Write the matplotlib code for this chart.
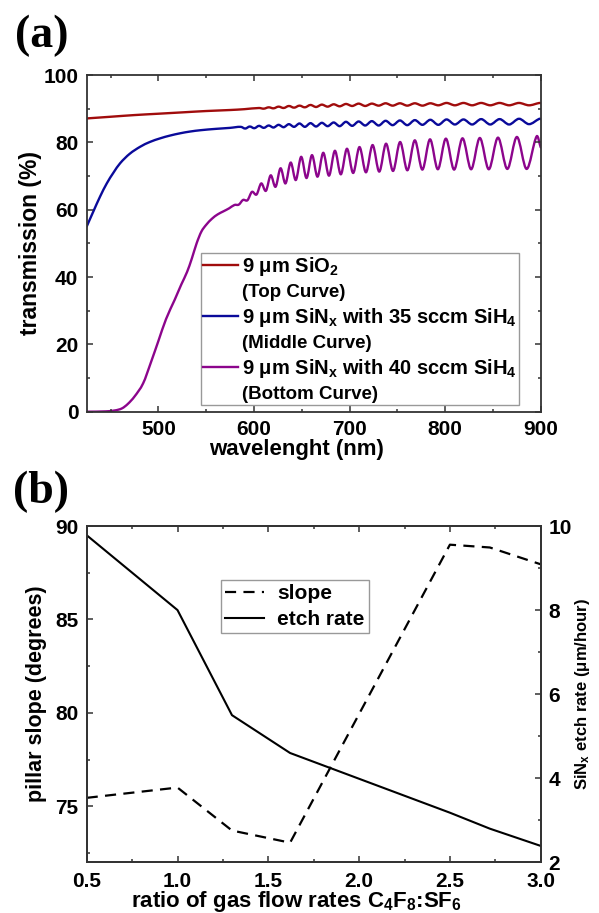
import matplotlib
matplotlib.use("Agg")
import matplotlib.pyplot as plt
from matplotlib.lines import Line2D
from matplotlib.path import Path
from matplotlib.patches import PathPatch
from matplotlib.ticker import MultipleLocator, FormatStrFormatter

plt.rcParams['font.family'] = ['Liberation Sans', 'DejaVu Sans']
plt.rcParams['font.weight'] = 'bold'
plt.rcParams['axes.labelweight'] = 'bold'
plt.rcParams['mathtext.default'] = 'regular'

# ---------------- panel (a): transmission spectra ----------------
sio2_nm = [425, 450, 475, 500, 525, 550, 575, 590,
           605.3, 610.3, 615.4, 620.5, 625.7, 631.1, 636.5, 642.0, 647.6, 653.3,
           659.1, 665.0, 671.0, 677.1, 683.4, 689.7, 696.2, 702.8, 709.5, 716.4,
           723.3, 730.5, 737.7, 745.1, 752.7, 760.4, 768.3, 776.3, 784.5, 792.9,
           801.5, 810.2, 819.2, 828.3, 837.7, 847.2, 857.0, 867.0, 877.3, 887.8,
           898.6, 900]
sio2_T = [87.1, 87.6, 88.1, 88.5, 88.9, 89.3, 89.6, 89.85,
          90.2, 90.0, 90.4, 90.1, 90.6, 90.2, 90.8, 90.3, 90.9, 90.4,
          91.1, 90.5, 91.2, 90.6, 91.3, 90.7, 91.4, 90.8, 91.5, 90.8,
          91.5, 90.9, 91.6, 90.9, 91.6, 90.9, 91.6, 90.9, 91.6, 91.0,
          91.7, 91.0, 91.7, 91.0, 91.7, 91.0, 91.7, 91.0, 91.7, 91.0,
          91.7, 91.6]

sin35_nm = [425, 432, 439, 446, 453, 460, 470, 481, 491, 502, 512, 523, 533, 544, 560, 575,
            586.2, 590.9, 595.6, 600.4, 605.3, 610.3, 615.4, 620.5, 625.7, 631.1,
            636.5, 642.0, 647.6, 653.3, 659.1, 665.0, 671.0, 677.1, 683.4, 689.7,
            696.2, 702.8, 709.5, 716.4, 723.3, 730.5, 737.7, 745.1, 752.7, 760.4,
            768.3, 776.3, 784.5, 792.9, 801.5, 810.2, 819.2, 828.3, 837.7, 847.2,
            857.0, 867.0, 877.3, 887.8, 898.6, 900]
sin35_T = [55.0, 59.5, 63.9, 67.8, 71.0, 73.8, 76.6, 78.7, 80.1, 81.2, 82.0, 82.7, 83.2, 83.6, 84.0, 84.3,
           84.6, 84.1, 84.7, 84.2, 84.9, 84.3, 85.0, 84.4, 85.2, 84.5,
           85.4, 84.6, 85.6, 84.6, 85.7, 84.7, 85.8, 84.8, 85.9, 84.8,
           86.1, 84.9, 86.2, 85.0, 86.3, 85.0, 86.4, 85.1, 86.5, 85.1,
           86.6, 85.2, 86.7, 85.2, 86.8, 85.3, 86.8, 85.3, 86.9, 85.3,
           86.9, 85.3, 87.0, 85.4, 87.0, 86.9]

sin40_nm = [425, 445, 455, 462, 468, 475, 484, 492, 500, 508, 517, 524, 530, 535, 540, 545,
            550, 556, 562, 568, 574,
            579.6, 584.1, 588.6, 593.2, 597.9, 602.7, 607.6, 612.5, 617.5, 622.6,
            627.8, 633.0, 638.4, 643.8, 649.4, 655.0, 660.7, 666.5, 672.5, 678.5,
            684.7, 690.9, 697.3, 703.8, 710.4, 717.2, 724.1, 731.1, 738.2, 745.5,
            752.9, 760.5, 768.3, 776.2, 784.2, 792.4, 800.8, 809.4, 818.2, 827.2,
            836.3, 845.7, 855.3, 865.1, 875.1, 885.3, 895.8, 900]
sin40_T = [0.0, 0.1, 0.4, 1.0, 2.3, 4.5, 8.4, 14.5, 21.0, 27.5, 33.2, 37.8, 41.5, 45.5, 50.0, 53.5,
           55.5, 57.3, 58.6, 59.5, 60.4,
           61.4, 61.5, 62.9, 62.8, 65.3, 64.5, 67.8, 65.6, 70.2, 66.8,
           72.3, 67.8, 74.0, 68.8, 75.7, 69.4, 76.2, 69.8, 76.9, 70.1,
           77.5, 70.5, 78.1, 70.9, 78.6, 71.1, 79.2, 71.3, 79.6, 71.5,
           80.1, 71.7, 80.6, 71.9, 80.9, 72.0, 81.1, 71.9, 81.2, 72.0,
           81.3, 72.0, 81.4, 72.1, 81.6, 72.1, 81.8, 78.5]

curve_labels = ["9 \u03bcm SiO$_2$", "9 \u03bcm SiN$_x$ with 35 sccm SiH$_4$",
                "9 \u03bcm SiN$_x$ with 40 sccm SiH$_4$"]
curve_notes = ["(Top Curve)", "(Middle Curve)", "(Bottom Curve)"]
curve_colors = ["#a00c0c", "#0a0a9a", "#8c058c"]

# ---------------- panel (b): etch results ----------------
gas_ratio = [0.5, 1.0, 1.3, 1.62, 2.5, 2.72, 3.0]
pillar_slope = [75.45, 76.0, 73.7, 73.05, 89.0, 88.85, 87.95]
etch_rate = [9.78, 8.0, 5.5, 4.6, 3.18, 2.8, 2.39]

W, H = 599, 913
fig = plt.figure(figsize=(W / 100, H / 100), dpi=100)

spine_col = "#333333"


def style_axes(ax, size):
    for s in ax.spines.values():
        s.set_color(spine_col)
        s.set_linewidth(1.3)
    ax.tick_params(which='both', direction='in', color=spine_col, width=1.1,
                   labelsize=size, pad=6)
    ax.tick_params(which='major', length=4.5)
    ax.tick_params(which='minor', length=2.5)


def smooth_line(ax, xs, ys, **kw):
    # smooth curve through the read points (cubic segments, data coords)
    n = len(xs)
    slopes = []
    for i in range(n):
        a, b = max(i - 1, 0), min(i + 1, n - 1)
        slopes.append((ys[b] - ys[a]) / (xs[b] - xs[a]))
    verts = [(xs[0], ys[0])]
    codes = [Path.MOVETO]
    for i in range(n - 1):
        dx = xs[i + 1] - xs[i]
        verts += [(xs[i] + dx / 3, ys[i] + slopes[i] * dx / 3),
                  (xs[i + 1] - dx / 3, ys[i + 1] - slopes[i + 1] * dx / 3),
                  (xs[i + 1], ys[i + 1])]
        codes += [Path.CURVE4] * 3
    ax.add_patch(PathPatch(Path(verts, codes), fill=False, capstyle='round',
                           joinstyle='round', **kw))


# panel (a)
axa = fig.add_axes([86.7 / W, 1 - 411.7 / H, 454 / W, 336.7 / H])
for nm, T, c in zip([sio2_nm, sin35_nm, sin40_nm], [sio2_T, sin35_T, sin40_T], curve_colors):
    smooth_line(axa, nm, T, edgecolor=c, lw=1.7)
axa.set_xlim(425, 900)
axa.set_ylim(0, 100)
axa.xaxis.set_major_locator(MultipleLocator(100))
axa.xaxis.set_minor_locator(MultipleLocator(50))
axa.yaxis.set_major_locator(MultipleLocator(20))
axa.yaxis.set_minor_locator(MultipleLocator(10))
style_axes(axa, 15)
axa.tick_params(which='both', top=True, right=True)
axa.set_xlabel("wavelenght (nm)", fontsize=16)
axa.set_ylabel("transmission (%)", fontsize=16.5)
axa.xaxis.set_label_coords(0.462, -0.082)
axa.yaxis.set_label_coords(-0.098, 0.5)

handles, labels = [], []
for lab, note, c in zip(curve_labels, curve_notes, curve_colors):
    handles.append(Line2D([], [], color=c, lw=1.7))
    labels.append(lab)
    handles.append(Line2D([], [], color='none'))
    labels.append(note)
leg = axa.legend(handles, labels, loc='upper left', bbox_to_anchor=(0.252, 0.47),
                 borderaxespad=0, fontsize=14.5, handlelength=1.75, handletextpad=0.2,
                 labelspacing=0.24, borderpad=0.1, fancybox=False, framealpha=1)
leg.get_frame().set_edgecolor("#999999")
leg.get_frame().set_linewidth(1.0)
for i, t in enumerate(leg.get_texts()):
    if i % 2 == 1:
        t.set_fontsize(13.5)

# panel (b)
axb = fig.add_axes([86.7 / W, 1 - 862.3 / H, 454 / W, 336.3 / H])
axr = axb.twinx()
l1, = axb.plot(gas_ratio, pillar_slope, color='black', lw=1.6, ls=(0, (5, 3.3)))
l2, = axr.plot(gas_ratio, etch_rate, color='black', lw=1.5)
axb.set_xlim(0.5, 3.0)
axb.set_ylim(72, 90)
axr.set_ylim(2, 10)
axb.xaxis.set_major_locator(MultipleLocator(0.5))
axb.xaxis.set_minor_locator(MultipleLocator(0.25))
axb.yaxis.set_major_locator(MultipleLocator(5))
axb.yaxis.set_minor_locator(MultipleLocator(2.5))
axr.yaxis.set_major_locator(MultipleLocator(2))
axr.yaxis.set_minor_locator(MultipleLocator(1))
axb.xaxis.set_major_formatter(FormatStrFormatter('%.1f'))
style_axes(axb, 15)
style_axes(axr, 15)
axr.tick_params(axis='y', pad=5.5)
axb.tick_params(axis='x', pad=6.8)
axb.tick_params(which='both', top=True)
axb.set_xlabel("ratio of gas flow rates C$_4$F$_8$:SF$_6$", fontsize=16)
axb.set_ylabel("pillar slope (degrees)", fontsize=15.5)
axr.set_ylabel("SiN$_x$ etch rate (\u03bcm/hour)", fontsize=12)
axb.xaxis.set_label_coords(0.462, -0.08)
axb.yaxis.set_label_coords(-0.088, 0.5)
axr.yaxis.set_label_coords(1.071, 0.5)

legb = axr.legend([l1, l2], ["slope", "etch rate"], loc='upper left',
                  bbox_to_anchor=(0.296, 0.839), borderaxespad=0, fontsize=15,
                  handlelength=1.85, handletextpad=0.65, labelspacing=0.32,
                  borderpad=0.2, fancybox=False, framealpha=1)
legb.get_frame().set_edgecolor("#999999")
legb.get_frame().set_linewidth(1.0)

fig.text(15 / W, 1 - 47 / H, "(a)", fontsize=33, fontweight='bold',
         family=['Liberation Serif', 'DejaVu Serif'], va='baseline')
fig.text(13 / W, 1 - 503 / H, "(b)", fontsize=33, fontweight='bold',
         family=['Liberation Serif', 'DejaVu Serif'], va='baseline')

fig.savefig("out.png", dpi=100)
